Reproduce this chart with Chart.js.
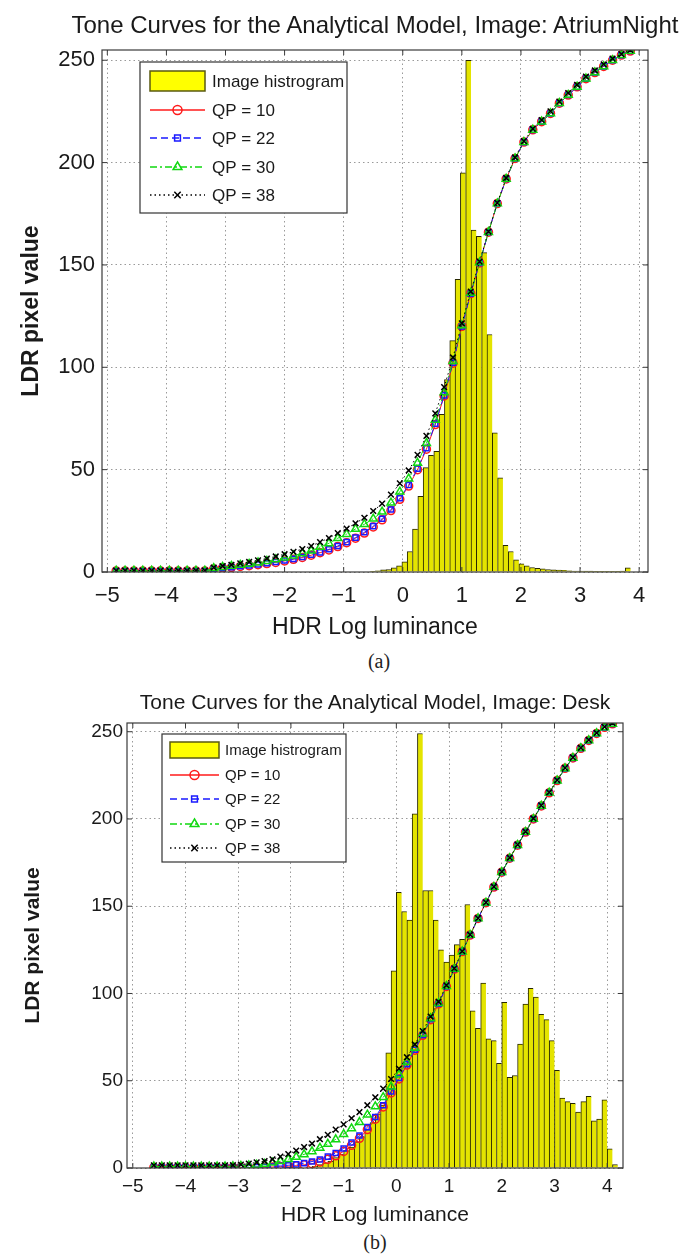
<!DOCTYPE html>
<html lang="en">
<head>
<meta charset="UTF-8">
<title>Tone Curves for the Analytical Model</title>
<script src="https://cdn.jsdelivr.net/npm/chart.js@4.4.1/dist/chart.umd.min.js"></script>
<style>
    body { margin: 0; background: #ffffff; }
    .page { position: relative; width: 699px; height: 1254px; overflow: hidden; }
    .page canvas { position: absolute; left: 0; }
    #toneA { top: 0px; }
    #toneB { top: 680px; }
    .ttl {
        position: absolute; left: 0; width: 750px; text-align: center; white-space: nowrap;
        font-family: "Liberation Sans", Arial, Helvetica, sans-serif; color: #1a1a1a; z-index: 2;
    }
    .cap {
        position: absolute; width: 80px; text-align: center; z-index: 2;
        font-family: "Liberation Serif", "Times New Roman", serif;
        font-size: 20px; line-height: 20px; color: #222;
    }
</style>
</head>
<body>
<div class="page">
    <canvas id="toneA" width="699" height="644"></canvas>
    <canvas id="toneB" width="699" height="551"></canvas>
    <div class="ttl" style="top:11px; font-size:24px; line-height:28px;">Tone Curves for the Analytical Model, Image: AtriumNight</div>
    <div class="ttl" style="top:690px; font-size:21px; line-height:24px;">Tone Curves for the Analytical Model, Image: Desk</div>
    <div class="cap" style="left:339px; top:651px;">(a)</div>
    <div class="cap" style="left:335px; top:1232px;">(b)</div>
</div>

<script>
// shared labels / ticks
const xTicks = [-5, -4, -3, -2, -1, 0, 1, 2, 3, 4];
const yTicks = [0, 50, 100, 150, 200, 250];
const histLabel = 'Image histrogram';
const seriesLabels = ['QP = 10', 'QP = 22', 'QP = 30', 'QP = 38'];

// (a) AtriumNight - histogram (bin centres, scaled counts)
const histXA = [-0.51, -0.42, -0.33, -0.24, -0.15, -0.06, 0.03, 0.12, 0.21, 0.30, 0.39, 0.48, 0.57, 0.66, 0.75, 0.84, 0.93,
    1.02, 1.11, 1.20, 1.29, 1.38, 1.47, 1.56, 1.65, 1.74, 1.83, 1.92, 2.01, 2.10, 2.19, 2.28, 2.37, 2.46, 2.55, 2.64, 2.73,
    2.82, 2.91, 3.00, 3.09, 3.18, 3.27, 3.36, 3.45, 3.54, 3.63, 3.72, 3.81];
const histYA = [0.3, 0.6, 1, 1.2, 2, 3, 5, 10, 21, 37, 51, 57, 59, 77, 94, 113, 143,
    195, 250, 167, 164, 156, 116, 68, 46, 13, 10, 6, 4, 3, 2.2, 1.8, 1.5, 1.2, 1, 0.9, 0.8,
    0.6, 0.5, 0.5, 0.4, 0.4, 0.3, 0.3, 0.3, 0.3, 0.3, 0.4, 2];

// (a) tone curves
const toneXA = [-4.85, -4.7, -4.55, -4.4, -4.25, -4.1, -3.95, -3.8, -3.65, -3.5, -3.35, -3.2, -3.05, -2.9, -2.75, -2.6,
    -2.45, -2.3, -2.15, -2.0, -1.85, -1.7, -1.55, -1.4, -1.25, -1.1, -0.95, -0.8, -0.65, -0.5, -0.35, -0.2, -0.05,
    0.1, 0.25, 0.4, 0.55, 0.7, 0.85, 1.0, 1.15, 1.3, 1.45, 1.6, 1.75, 1.9, 2.05, 2.2, 2.35, 2.5, 2.65, 2.8, 2.95,
    3.1, 3.25, 3.4, 3.55, 3.7, 3.85];
const qp10A = [0.5, 0.5, 0.5, 0.5, 0.5, 0.5, 0.5, 0.5, 0.5, 0.5, 0.5, 1.5, 2, 2.3, 2.7, 3.1,
    3.6, 4.1, 4.7, 5.4, 6.2, 7.1, 8.2, 9.4, 10.8, 12.4, 14.3, 16.5, 19, 22, 25.5, 30, 35.5,
    42, 50, 60, 72, 86, 102, 120, 136, 151, 166, 180, 192, 202, 210, 216, 220, 224, 229, 233, 237,
    241, 244, 247, 250, 252.5, 254.5];
const qp22A = [0.5, 0.5, 0.5, 0.5, 0.5, 0.5, 0.5, 0.5, 0.5, 0.5, 0.5, 1.5, 2, 2.4, 2.8, 3.2,
    3.7, 4.3, 4.9, 5.6, 6.4, 7.3, 8.4, 9.6, 11.1, 12.7, 14.6, 16.8, 19.4, 22.4, 26, 30.5, 36,
    42.5, 50.5, 60.5, 72.4, 86.3, 102.2, 120, 136, 151, 166, 180, 192, 202, 210, 216, 220, 224, 229, 233, 237,
    241, 244, 247, 250, 252.5, 254.5];
const qp30A = [0.6, 0.6, 0.6, 0.6, 0.6, 0.6, 0.6, 0.6, 0.6, 0.6, 0.6, 1.8, 2.4, 2.9, 3.4, 3.9,
    4.6, 5.3, 6.1, 7, 8, 9.1, 10.4, 12.2, 14, 16.5, 18.5, 21, 23.3, 26, 29.4, 33.8, 39.2,
    45.6, 53.3, 62.9, 74.3, 87.7, 103, 120.5, 136.3, 151.2, 166, 180, 192, 202, 210, 216, 220, 224, 229, 233, 237,
    241, 244, 247, 250, 252.5, 254.5];
const qp38A = [0.7, 0.7, 0.7, 0.7, 0.7, 0.7, 0.7, 0.7, 0.7, 0.7, 0.7, 2.2, 2.9, 3.5, 4.2, 4.9,
    5.7, 6.6, 7.6, 8.7, 9.9, 11.2, 12.7, 14.6, 16.6, 19, 21.2, 23.8, 26.5, 29.8, 33.4, 37.8, 43.3,
    49.6, 57.2, 66.5, 77.5, 90.3, 104.8, 121.5, 137, 151.6, 166.3, 180.3, 192.5, 202.5, 210.5, 216.5, 220.8, 225, 229.8, 234, 238,
    242, 245, 248, 250.8, 253, 255];

// (b) Desk - histogram
const histXB = [-1.55, -1.45, -1.35, -1.25, -1.15, -1.05, -0.95, -0.85, -0.75, -0.65, -0.55, -0.45, -0.35, -0.25, -0.15, -0.05,
    0.05, 0.15, 0.25, 0.35, 0.45, 0.55, 0.65, 0.75, 0.85, 0.95, 1.05, 1.15, 1.25, 1.35, 1.45, 1.55, 1.65, 1.75, 1.85, 1.95,
    2.05, 2.15, 2.25, 2.35, 2.45, 2.55, 2.65, 2.75, 2.85, 2.95, 3.05, 3.15, 3.25, 3.35, 3.45, 3.55, 3.65, 3.75, 3.85, 3.95,
    4.05, 4.15];
const histYB = [1, 2, 3, 4, 6, 8, 10, 12, 15, 18, 22, 26, 31, 36, 66, 113,
    158, 147, 142, 203, 249, 159, 159, 142, 125, 118, 122, 128, 131, 151, 90, 80, 106, 74, 73, 60,
    95, 52, 53, 71, 94, 103, 98, 88, 85, 73, 56, 40, 38, 37, 32, 38, 41, 27, 28, 39,
    11, 2];

// (b) tone curves
const toneXB = [-4.6, -4.45, -4.3, -4.15, -4.0, -3.85, -3.7, -3.55, -3.4, -3.25, -3.1, -2.95, -2.8, -2.65, -2.5, -2.35,
    -2.2, -2.05, -1.9, -1.75, -1.6, -1.45, -1.3, -1.15, -1.0, -0.85, -0.7, -0.55, -0.4, -0.25, -0.1,
    0.05, 0.2, 0.35, 0.5, 0.65, 0.8, 0.95, 1.1, 1.25, 1.4, 1.55, 1.7, 1.85, 2.0, 2.15, 2.3, 2.45, 2.6, 2.75,
    2.9, 3.05, 3.2, 3.35, 3.5, 3.65, 3.8, 3.95, 4.1];
const qp10B = [0.3, 0.3, 0.3, 0.3, 0.3, 0.3, 0.3, 0.3, 0.3, 0.3, 0.3, 0.3, 0.3, 0.4, 0.4, 0.6,
    0.8, 1, 1.3, 1.8, 2.5, 3.5, 5, 7, 9.5, 13, 17, 22, 28, 35, 43,
    51, 59, 67.5, 76, 85, 94, 104, 114, 124, 133.5, 143, 152, 161, 169.5, 177.5, 185, 192.5, 200, 207.5,
    215, 222, 229, 235, 240.5, 245, 249, 252.5, 254.5];
const qp22B = [0.4, 0.4, 0.4, 0.4, 0.4, 0.4, 0.4, 0.4, 0.4, 0.4, 0.4, 0.4, 0.5, 0.6, 0.7, 0.9,
    1.2, 1.6, 2.1, 2.8, 3.7, 4.9, 6.5, 8.6, 11.2, 14.6, 18.6, 23.4, 29.2, 36, 43.8,
    51.6, 59.5, 67.8, 76.2, 85.2, 94.1, 104, 114, 124, 133.5, 143, 152, 161, 169.5, 177.5, 185, 192.5, 200, 207.5,
    215, 222, 229, 235, 240.5, 245, 249, 252.5, 254.5];
const qp30B = [0.8, 0.8, 0.8, 0.8, 0.8, 0.8, 0.8, 0.8, 0.8, 0.8, 0.9, 1.1, 1.4, 1.8, 2.3, 3,
    3.9, 5, 6.3, 7.8, 9.5, 11.5, 13.8, 16.4, 19.3, 22.6, 26.3, 30.5, 35.2, 40.5, 46.6,
    53.4, 60.8, 68.8, 77, 85.7, 94.5, 104.2, 114, 124, 133.5, 143, 152, 161, 169.5, 177.5, 185, 192.5, 200, 207.5,
    215, 222, 229, 235, 240.5, 245, 249, 252.5, 254.5];
const qp38B = [1.5, 1.5, 1.5, 1.5, 1.5, 1.5, 1.5, 1.5, 1.5, 1.5, 1.6, 2, 2.5, 3.2, 4, 5,
    6.5, 8, 10, 12, 14, 16.5, 19, 22, 25, 28.5, 32, 36, 40.5, 45.5, 51,
    57, 63.5, 70.8, 78.5, 86.8, 95.3, 104.7, 114.4, 124.2, 133.7, 143.2, 152.2, 161.2, 169.8, 177.8, 185.3, 192.8, 200.3, 207.8,
    215.3, 222.3, 229.3, 235.3, 240.8, 245.3, 249.3, 252.8, 255];

const FONT = '"Liberation Sans", Arial, Helvetica, sans-serif';
const INK = '#1a1a1a';

const lineStyles = [
    { color: '#ff1a1a', dash: [], point: 'circle', r: 4 },
    { color: '#1a1aff', dash: [7, 4], point: 'rect', r: 3.6 },
    { color: '#10d810', dash: [7, 3, 2, 3], point: 'triangle', r: 4.6 },
    { color: '#000000', dash: [1.5, 3], point: 'crossRot', r: 4 }
];

function pts(xs, ys) {
    return xs.map((x, i) => ({ x: x, y: ys[i] }));
}

// box round the plot with inner tick marks (matlab style)
const frameBox = {
    id: 'frameBox',
    afterDatasetsDraw(chart) {
        const ctx = chart.ctx, a = chart.chartArea;
        const sx = chart.scales.x, sy = chart.scales.y;
        ctx.save();
        ctx.strokeStyle = '#3a3a3a';
        ctx.lineWidth = 1.2;
        ctx.setLineDash([]);
        ctx.strokeRect(a.left, a.top, a.right - a.left, a.bottom - a.top);
        ctx.lineWidth = 1;
        ctx.beginPath();
        sx.ticks.forEach(t => {
            const px = sx.getPixelForValue(t.value);
            ctx.moveTo(px, a.bottom); ctx.lineTo(px, a.bottom - 5);
            ctx.moveTo(px, a.top); ctx.lineTo(px, a.top + 5);
        });
        sy.ticks.forEach(t => {
            const py = sy.getPixelForValue(t.value);
            ctx.moveTo(a.left, py); ctx.lineTo(a.left + 5, py);
            ctx.moveTo(a.right, py); ctx.lineTo(a.right - 5, py);
        });
        ctx.stroke();
        ctx.restore();
    }
};

// legend box inside the axes, line + marker samples
const legendBox = {
    id: 'legendBox',
    afterDatasetsDraw(chart, args, o) {
        const ctx = chart.ctx;
        ctx.save();
        ctx.fillStyle = '#ffffff';
        ctx.fillRect(o.x, o.y, o.w, o.h);
        ctx.strokeStyle = '#333333';
        ctx.lineWidth = 1.2;
        ctx.strokeRect(o.x, o.y, o.w, o.h);
        ctx.font = o.fontSize + 'px ' + FONT;
        ctx.textBaseline = 'middle';
        ctx.textAlign = 'left';
        chart.data.datasets.forEach((ds, i) => {
            const cy = Math.round(o.y + o.first + i * o.rowH);
            const mid = o.sampleX + o.sampleW / 2;
            if (ds.type === 'bar') {
                ctx.fillStyle = '#ffff00';
                ctx.fillRect(o.sampleX, cy - o.boxH / 2, o.sampleW, o.boxH);
                ctx.strokeStyle = '#5a5a10';
                ctx.lineWidth = 1.5;
                ctx.strokeRect(o.sampleX, cy - o.boxH / 2, o.sampleW, o.boxH);
            } else {
                ctx.strokeStyle = ds.borderColor;
                ctx.lineWidth = 1.5;
                ctx.setLineDash(ds.borderDash);
                ctx.beginPath();
                ctx.moveTo(o.sampleX, cy);
                ctx.lineTo(o.sampleX + o.sampleW, cy);
                ctx.stroke();
                ctx.setLineDash([]);
                ctx.fillStyle = 'rgba(0,0,0,0)';
                ctx.lineWidth = 1.5;
                Chart.helpers.drawPoint(ctx, { pointStyle: ds.pointStyle, radius: ds.pointRadius + 0.5, rotation: 0, borderWidth: 1.5 }, mid, cy);
            }
            ctx.fillStyle = INK;
            ctx.fillText(ds.label, o.textX, cy + 1);
        });
        ctx.restore();
    }
};

function buildChart(id, o) {
    const datasets = [{
        type: 'bar',
        label: histLabel,
        data: pts(o.histX, o.histY),
        backgroundColor: '#e4e400',
        borderColor: '#262600',
        borderWidth: { top: 1, left: 1, right: 0, bottom: 0 },
        barPercentage: 1,
        categoryPercentage: 1,
        order: 10
    }];
    o.curves.forEach((c, i) => {
        const st = lineStyles[i];
        datasets.push({
            type: 'line',
            label: seriesLabels[i],
            data: pts(o.toneX, c),
            borderColor: st.color,
            borderWidth: 1,
            borderDash: st.dash,
            pointStyle: st.point,
            pointRadius: st.r,
            pointBorderWidth: 1.5,
            pointBorderColor: st.color,
            pointBackgroundColor: 'rgba(0,0,0,0)',
            fill: false,
            tension: 0,
            order: 4 - i
        });
    });

    return new Chart(document.getElementById(id), {
        type: 'bar',
        data: { datasets: datasets },
        plugins: [frameBox, legendBox],
        options: {
            responsive: false,
            devicePixelRatio: 1,
            animation: false,
            layout: { padding: { left: 0, right: o.padRight, top: o.padTop, bottom: 0 } },
            plugins: {
                legend: { display: false },
                tooltip: { enabled: false },
                title: { display: false },
                legendBox: o.legend
            },
            scales: {
                x: {
                    type: 'linear',
                    min: o.xMin,
                    max: o.xMax,
                    offset: false,
                    afterBuildTicks: s => { s.ticks = xTicks.map(v => ({ value: v })); },
                    afterFit: s => { s.height = o.xAxisH; },
                    grid: { color: '#9a9a9a', lineWidth: 1, drawTicks: false, offset: false },
                    border: { display: false, dash: [1.5, 3] },
                    ticks: {
                        color: INK,
                        font: { family: FONT, size: o.tickSize },
                        padding: o.xTickPad,
                        maxRotation: 0,
                        autoSkip: false,
                        callback: v => (v < 0 ? '\u2212' + Math.abs(v) : String(v))
                    },
                    title: {
                        display: true,
                        text: 'HDR Log luminance',
                        color: INK,
                        font: { family: FONT, size: o.xTitleSize },
                        padding: { top: 0, bottom: 3 }
                    }
                },
                y: {
                    type: 'linear',
                    min: 0,
                    max: 255,
                    afterBuildTicks: s => { s.ticks = yTicks.map(v => ({ value: v })); },
                    afterFit: s => { s.width = o.yAxisW; },
                    grid: { color: '#9a9a9a', lineWidth: 1, drawTicks: false },
                    border: { display: false, dash: [1.5, 3] },
                    ticks: {
                        color: INK,
                        font: { family: FONT, size: o.tickSize },
                        padding: o.yTickPad
                    },
                    title: {
                        display: true,
                        text: 'LDR pixel value',
                        color: INK,
                        font: { family: FONT, size: o.yTitleSize, weight: 'bold' },
                        padding: { top: o.yTitlePad, bottom: 0 }
                    }
                }
            }
        }
    });
}

window.onload = function () {
    buildChart('toneA', {
        histX: histXA, histY: histYA, toneX: toneXA,
        curves: [qp10A, qp22A, qp30A, qp38A],
        xMin: -5.09, xMax: 4.15,
        padRight: 51, padTop: 50, xAxisH: 72, yAxisW: 102,
        tickSize: 22, xTickPad: 11, yTickPad: 7,
        xTitleSize: 23, yTitleSize: 23, yTitlePad: 18,
        legend: { x: 140, y: 62, w: 207, h: 151, first: 19, rowH: 28.5, fontSize: 17,
                  sampleX: 150, sampleW: 55, boxH: 20, textX: 212 }
    });
    buildChart('toneB', {
        histX: histXB, histY: histYB, toneX: toneXB,
        curves: [qp10B, qp22B, qp30B, qp38B],
        xMin: -5.11, xMax: 4.30,
        padRight: 76, padTop: 43, xAxisH: 63, yAxisW: 127,
        tickSize: 19, xTickPad: 7, yTickPad: 4,
        xTitleSize: 21, yTitleSize: 21, yTitlePad: 21,
        legend: { x: 162, y: 54, w: 184, h: 128, first: 16, rowH: 24.5, fontSize: 15,
                  sampleX: 170, sampleW: 49, boxH: 16, textX: 225 }
    });
};
</script>
</body>
</html>
